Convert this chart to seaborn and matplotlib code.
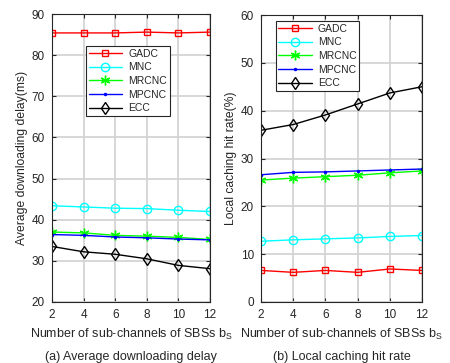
import matplotlib
matplotlib.use("Agg")
import matplotlib.pyplot as plt
import seaborn as sns
import pandas as pd

sns.set_style("white")
plt.rcParams['font.family'] = ['Liberation Sans', 'DejaVu Sans']

x_vals = [2, 4, 6, 8, 10, 12]
series_names = ["GADC", "MNC", "MRCNC", "MPCNC", "ECC"]

delay_gadc = [85.4, 85.4, 85.4, 85.6, 85.4, 85.6]
delay_mnc = [43.4, 43.1, 42.8, 42.7, 42.3, 42.0]
delay_mrcnc = [37.0, 36.8, 36.2, 36.0, 35.7, 35.2]
delay_mpcnc = [36.4, 36.2, 35.8, 35.6, 35.3, 35.1]
delay_ecc = [33.5, 32.2, 31.6, 30.5, 28.9, 28.1]

hit_gadc = [6.6, 6.2, 6.6, 6.2, 6.9, 6.6]
hit_mnc = [12.7, 13.0, 13.2, 13.4, 13.7, 13.9]
hit_mrcnc = [25.5, 25.9, 26.2, 26.5, 27.0, 27.4]
hit_mpcnc = [26.6, 27.1, 27.2, 27.4, 27.6, 27.8]
hit_ecc = [35.9, 37.1, 39.1, 41.4, 43.7, 45.0]

colors = {"GADC": "#ff0000", "MNC": "#00ffff", "MRCNC": "#00ff00", "MPCNC": "#0000ff", "ECC": "#000000"}
markers = {"GADC": "s", "MNC": "o", "MRCNC": (6, 2, 0), "MPCNC": ".", "ECC": "d"}
msizes = {"GADC": 5, "MNC": 6, "MRCNC": 7, "MPCNC": 3, "ECC": 6.5}

fig = plt.figure(figsize=(4.5, 3.63), dpi=100)
ax1 = fig.add_axes([52/450, 61/363, 158/450, 288/363])
ax2 = fig.add_axes([261/450, 61/363, 161/450, 287/363])

def draw(ax, data, ylim, yticks, ylabel, caption, legend_bbox):
    for name, vals in zip(series_names, data):
        df = pd.DataFrame({"x": x_vals, "y": vals})
        mfc = colors[name] if name == "MPCNC" else "none"
        sns.lineplot(data=df, x="x", y="y", ax=ax, color=colors[name], marker=markers[name],
                     markersize=msizes[name], markerfacecolor=mfc, markeredgecolor=colors[name],
                     markeredgewidth=1.0, linewidth=1.0, label=name)
    ax.set_xlim(2, 12)
    ax.set_ylim(*ylim)
    ax.set_xticks(x_vals)
    ax.set_yticks(yticks)
    ax.grid(True, color="#d4d4d4", linewidth=1.3)
    ax.set_axisbelow(True)
    for s in ax.spines.values():
        s.set_color("#262626")
        s.set_linewidth(0.8)
    ax.tick_params(direction="in", length=3, labelsize=8.5, colors="#262626", pad=5,
                   top=True, right=True, bottom=True, left=True)
    ax.set_xlabel("Number of sub-channels of SBSs b$_\\mathregular{S}$", fontsize=9, color="#262626", labelpad=4)
    ax.set_ylabel(ylabel, fontsize=8.7, color="#262626", labelpad=3)
    ax.text(0.5, -0.19, caption, transform=ax.transAxes, ha="center", va="center", fontsize=9, color="#262626")
    leg = ax.legend(loc="upper left", bbox_to_anchor=legend_bbox, fontsize=7.5, frameon=True,
                    fancybox=False, edgecolor="#262626", framealpha=1, handlelength=3.2,
                    borderpad=0.25, labelspacing=0.35, handletextpad=0.6, borderaxespad=0)
    leg.get_frame().set_linewidth(0.8)

draw(ax1, [delay_gadc, delay_mnc, delay_mrcnc, delay_mpcnc, delay_ecc], (20, 90),
     [20, 30, 40, 50, 60, 70, 80, 90], "Average downloading delay(ms)",
     "(a) Average downloading delay", (0.215, 0.889))
draw(ax2, [hit_gadc, hit_mnc, hit_mrcnc, hit_mpcnc, hit_ecc], (0, 60),
     [0, 10, 20, 30, 40, 50, 60], "Local caching hit rate(%)",
     "(b) Local caching hit rate", (0.092, 0.979))

fig.savefig("out.png", dpi=100)
